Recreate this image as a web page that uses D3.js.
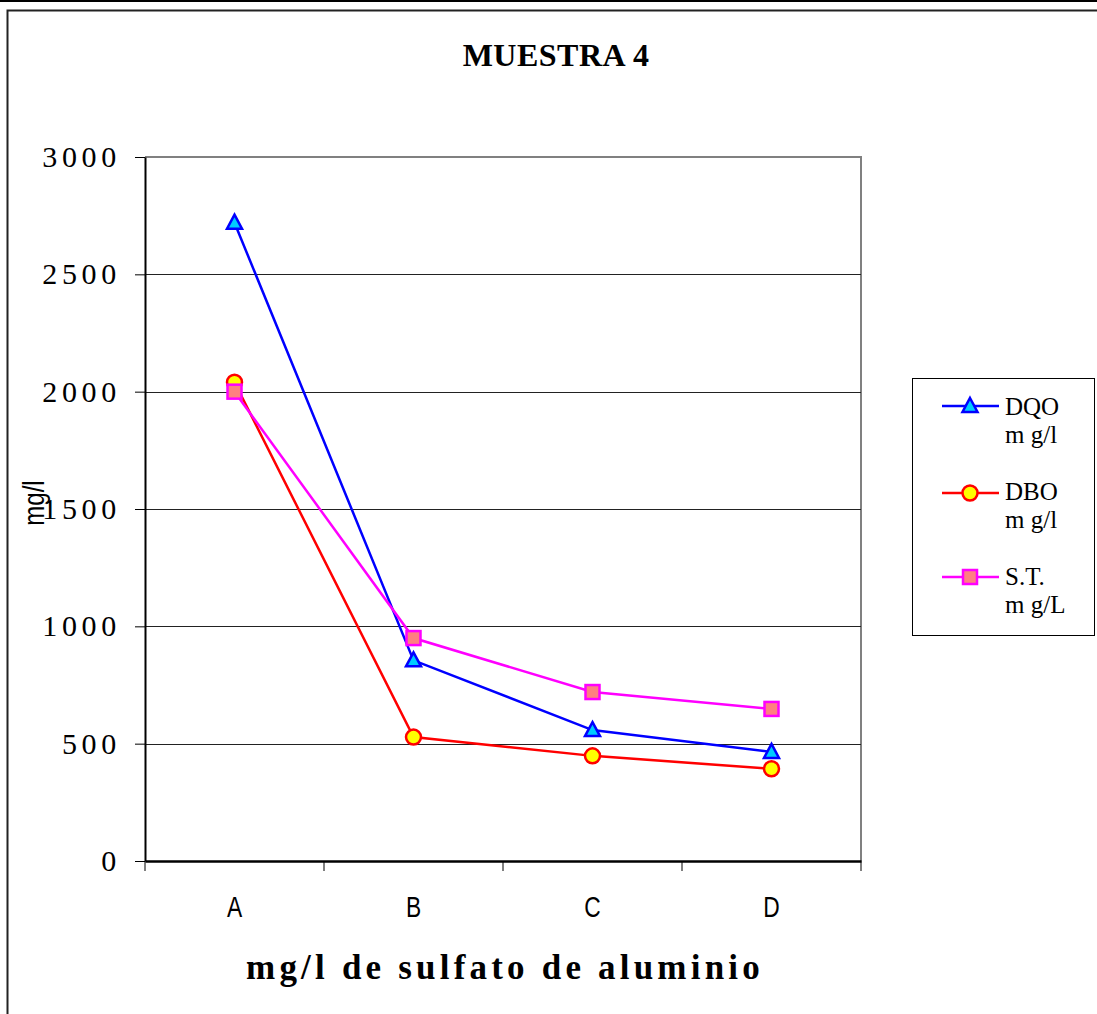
<!DOCTYPE html>
<html>
<head>
<meta charset="utf-8">
<script src="https://cdn.jsdelivr.net/npm/d3@7/dist/d3.min.js"></script>
<style>
  html, body { margin: 0; padding: 0; background: #fff; }
  svg { display: block; }
</style>
</head>
<body>
<svg id="chart" width="1097" height="1014"></svg>
<script>
// Sample 4: DQO, DBO and total solids (mg/l) per aluminium sulphate dose
const categories = ["A", "B", "C", "D"];
const dqo = [2720, 855, 558, 465];
const dbo = [2040, 528, 448, 393];
const st  = [2000, 950, 720, 648];
const yTicks = [0, 500, 1000, 1500, 2000, 2500, 3000];
const seriesNames = [["DQO", "m g/l"], ["DBO", "m g/l"], ["S.T.", "m g/L"]];

const series = [
  { values: dqo, line: "#0000ff", fill: "#00ccff", stroke: "#0000ff", shape: "triangle", label: seriesNames[0] },
  { values: dbo, line: "#ff0000", fill: "#ffff00", stroke: "#ff0000", shape: "circle",   label: seriesNames[1] },
  { values: st,  line: "#ff00ff", fill: "#ff8080", stroke: "#ff00ff", shape: "square",   label: seriesNames[2] }
];

const svg = d3.select("#chart");
const W = 1097, H = 1014;
const serif = "Liberation Serif, Times New Roman, serif";
const sans = "Liberation Sans, Arial, sans-serif";

// outer frame
svg.append("line").attr("x1", 0).attr("x2", W).attr("y1", 1).attr("y2", 1)
  .attr("stroke", "#000").attr("stroke-width", 2);
svg.append("rect").attr("x", 7.5).attr("y", 10.5).attr("width", W).attr("height", H)
  .attr("fill", "none").attr("stroke", "#222").attr("stroke-width", 2);

const plot = { left: 145, right: 861, top: 157, bottom: 861 };

const x = d3.scaleBand().domain(categories).range([plot.left, plot.right]);
const y = d3.scaleLinear().domain([0, 3000]).range([plot.bottom, plot.top]);

// title
svg.append("text").attr("x", 556).attr("y", 66).attr("text-anchor", "middle")
  .attr("font-family", serif)
  .attr("font-weight", "bold").attr("font-size", 32).attr("letter-spacing", 0.5)
  .text("MUESTRA 4");

// plot border (top/right)
svg.append("path")
  .attr("d", `M${plot.left},${plot.top}H${plot.right}V${plot.bottom}`)
  .attr("fill", "none").attr("stroke", "#808080").attr("stroke-width", 2);

// gridlines
svg.append("g").selectAll("line").data(yTicks.filter(d => d > 0 && d < 3000)).join("line")
  .attr("x1", plot.left).attr("x2", plot.right)
  .attr("y1", d => Math.round(y(d)) + 0.5).attr("y2", d => Math.round(y(d)) + 0.5)
  .attr("stroke", "#222").attr("stroke-width", 1);

// y axis
const yAxis = svg.append("g").attr("transform", `translate(${plot.left},0)`)
  .call(d3.axisLeft(y).tickValues(yTicks).tickSize(10).tickSizeOuter(0).tickFormat(d3.format("d")));
yAxis.select(".domain").attr("stroke", "#000").attr("stroke-width", 2);
yAxis.selectAll(".tick line").attr("stroke", "#000");
yAxis.selectAll(".tick text")
  .attr("x", -24)
  .attr("font-family", serif)
  .attr("font-size", 30).attr("letter-spacing", 4.7).attr("fill", "#000");

// x axis
const xAxis = svg.append("g").attr("transform", `translate(0,${plot.bottom})`)
  .call(d3.axisBottom(x).tickSize(0).tickSizeOuter(0).tickFormat(""));
xAxis.select(".domain").attr("stroke", "#000").attr("stroke-width", 2.5);
// category labels, narrow sans
svg.append("g").selectAll("text").data(categories).join("text")
  .attr("transform", d => `translate(${x(d) + x.bandwidth() / 2},917) scale(0.76,1)`)
  .attr("text-anchor", "middle")
  .attr("font-family", sans).attr("font-size", 30).attr("fill", "#000")
  .text(d => d);
// category boundary ticks
const bounds = categories.map(c => x(c)).concat([plot.right]);
svg.append("g").selectAll("line").data(bounds).join("line")
  .attr("x1", d => d).attr("x2", d => d)
  .attr("y1", plot.bottom).attr("y2", plot.bottom + 10)
  .attr("stroke", "#000").attr("stroke-width", 1);

// axis titles
svg.append("text")
  .attr("transform", "translate(44,503) rotate(-90) scale(0.8,1)")
  .attr("text-anchor", "middle")
  .attr("font-family", sans)
  .attr("font-size", 30)
  .text("mg/l");

svg.append("text").attr("x", 505).attr("y", 979).attr("text-anchor", "middle")
  .attr("font-family", serif)
  .attr("font-weight", "bold").attr("font-size", 35).attr("letter-spacing", 4.2)
  .text("mg/l de sulfato de aluminio");

// marker drawing
function marker(g, shape, fill, stroke) {
  if (shape === "triangle") {
    g.append("path").attr("d", "M0,-8L7.5,6L-7.5,6Z")
      .attr("fill", fill).attr("stroke", stroke).attr("stroke-width", 2.5).attr("stroke-linejoin", "miter");
  } else if (shape === "circle") {
    g.append("circle").attr("r", 7.5)
      .attr("fill", fill).attr("stroke", stroke).attr("stroke-width", 2.5);
  } else {
    g.append("rect").attr("x", -7).attr("y", -7).attr("width", 14).attr("height", 14)
      .attr("fill", fill).attr("stroke", stroke).attr("stroke-width", 2.5);
  }
}

const cx = c => x(c) + x.bandwidth() / 2;
const line = d3.line().x((d, i) => cx(categories[i])).y(d => y(d));

// lines first, then markers (DQO, DBO, S.T. order)
series.forEach(s => {
  svg.append("path").datum(s.values).attr("d", line)
    .attr("fill", "none").attr("stroke", s.line).attr("stroke-width", 2.5);
});
series.forEach(s => {
  s.values.forEach((v, i) => {
    const g = svg.append("g").attr("transform", `translate(${cx(categories[i])},${y(v)})`);
    marker(g, s.shape, s.fill, s.stroke);
  });
});

// legend
const lg = svg.append("g");
lg.append("rect").attr("x", 912.5).attr("y", 378.5).attr("width", 182).attr("height", 257)
  .attr("fill", "#fff").attr("stroke", "#000").attr("stroke-width", 1);
const legendY = [406, 493, 577];
const legendBase = [415, 500, 585];
series.forEach((s, i) => {
  const ly = legendY[i];
  lg.append("line").attr("x1", 942).attr("x2", 999).attr("y1", ly).attr("y2", ly)
    .attr("stroke", s.line).attr("stroke-width", 2.5);
  marker(lg.append("g").attr("transform", `translate(970,${ly})`), s.shape, s.fill, s.stroke);
  const t = lg.append("text")
    .attr("font-family", serif)
    .attr("font-size", 25).attr("fill", "#000");
  t.append("tspan").attr("x", 1005).attr("y", legendBase[i]).text(s.label[0]);
  t.append("tspan").attr("x", 1005).attr("y", legendBase[i] + 28).text(s.label[1]);
});
</script>
</body>
</html>
